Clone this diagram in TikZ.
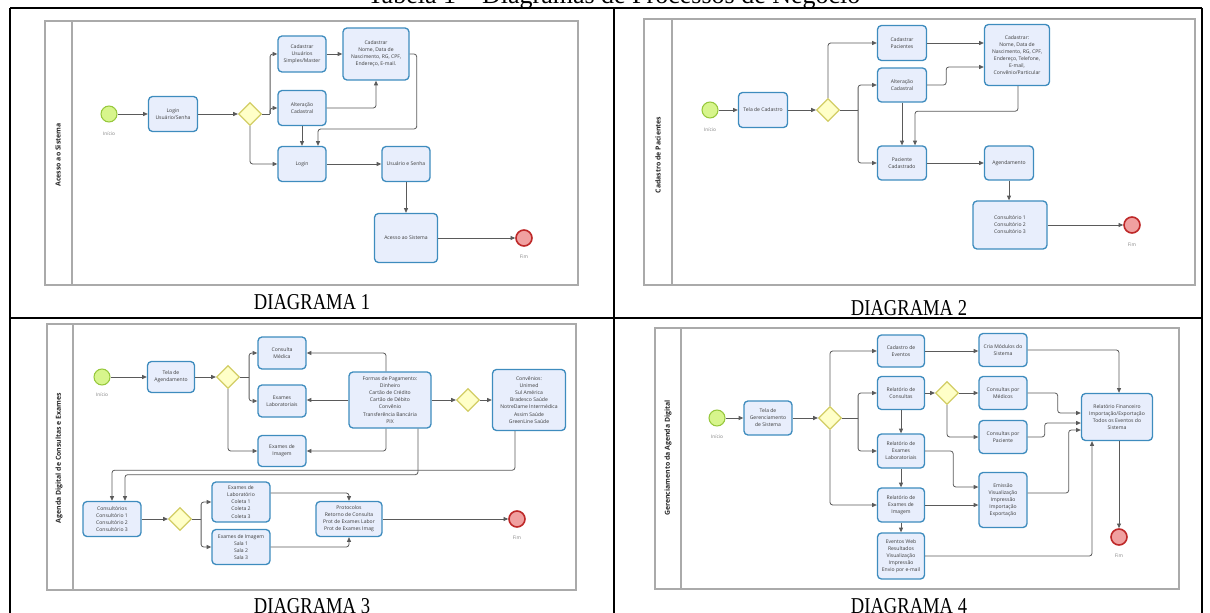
\documentclass[tikz,border=0pt]{standalone}
\usepackage{fontspec}
\setmainfont{Liberation Serif}
\newfontfamily\diagfont{Open Sans}
\usetikzlibrary{arrows.meta,shapes.geometric}

\definecolor{taskline}{RGB}{62,140,190}
\definecolor{taskfill}{RGB}{232,238,252}
\definecolor{startline}{RGB}{150,200,60}
\definecolor{startfill}{RGB}{215,245,140}
\definecolor{endline}{RGB}{190,40,40}
\definecolor{endfill}{RGB}{240,160,160}
\definecolor{gateline}{RGB}{210,205,100}
\definecolor{gatefill}{RGB}{255,255,200}
\definecolor{poolline}{RGB}{170,170,170}
\definecolor{flowline}{RGB}{90,90,90}
\definecolor{labelgrey}{RGB}{60,60,60}

\newcommand{\pxu}{0.75pt}

\tikzset{
  task/.style={draw=taskline, fill=taskfill, line width=1pt, rounded corners=3pt, align=center,
    font=\diagfont\fontsize{3.8}{5.3}\selectfont, text=labelgrey, inner sep=0pt},
  startev/.style={circle, draw=startline, fill=startfill, line width=0.8pt, minimum size=16*\pxu, inner sep=0pt},
  endev/.style={circle, draw=endline, fill=endfill, line width=1.2pt, minimum size=16*\pxu, inner sep=0pt},
  gateway/.style={diamond, draw=gateline, fill=gatefill, line width=0.9pt, minimum size=23*\pxu, inner sep=0pt},
  evlabel/.style={font=\diagfont\fontsize{3.6}{4.5}\selectfont, text=gray},
  flow/.style={draw=flowline, line width=0.6pt, rounded corners=2pt, -{Triangle[length=3.5pt,width=3pt]}},
  pool/.style={draw=poolline, line width=1pt},
  lanelabel/.style={rotate=90, font=\diagfont\bfseries\fontsize{5.2}{6}\selectfont, text=black!85},
  tableline/.style={draw=black, line width=1.2pt},
  caption/.style={font=\fontsize{17}{20}\selectfont, xscale=0.82},
  tabletitle/.style={font=\fontsize{19.5}{22}\selectfont, anchor=base},
}

\begin{document}
\begin{tikzpicture}[x=0.75pt, y=-0.75pt]
      \useasboundingbox (0,0) rectangle (1210,613);

      % Table
      \node[tabletitle] (title) at (614,4) {Tabela 1 – Diagramas de Processos de Negócio};
      \draw[tableline] (10,8) -- (1202,8);
      \draw[tableline] (10,318) -- (1202,318);
      \draw[tableline] (10,8) -- (10,613);
      \draw[tableline] (614,8) -- (614,613);
      \draw[tableline] (1202,8) -- (1202,613);
      \node[caption] (cap1) at (312,302) {DIAGRAMA 1};
      \node[caption] (cap2) at (909,308) {DIAGRAMA 2};
      \node[caption] (cap3) at (312,606) {DIAGRAMA 3};
      \node[caption] (cap4) at (909,606) {DIAGRAMA 4};

      % Diagrama 1
      \draw[pool] (45,21) rectangle (578,285);
      \draw[pool] (72,21) -- (72,285);
      \node[lanelabel] (d1lane) at (58,155) {Acesso ao Sistema};
      \node[startev] (d1ini) at (109,114) {};
      \node[evlabel] (d1inil) at (109,134) {Início};
      \node[task, minimum width=49*\pxu, minimum height=35*\pxu] (d1log) at (173,114) {Login\\Usuário/Senha};
      \node[gateway] (d1gw) at (250,114) {};
      \node[task, minimum width=48*\pxu, minimum height=36*\pxu] (d1cadu) at (302,54) {Cadastrar\\Usuários\\Simples/Master};
      \node[task, minimum width=48*\pxu, minimum height=35*\pxu] (d1alt) at (302,108) {Alteração\\Cadastral};
      \node[task, minimum width=48*\pxu, minimum height=35*\pxu] (d1login) at (302,164) {Login};
      \node[task, minimum width=66*\pxu, minimum height=52*\pxu] (d1cadn) at (376,54) {Cadastrar\\Nome, Data de\\Nascimento, RG, CPF,\\Endereço, E-mail.};
      \node[task, minimum width=48*\pxu, minimum height=35*\pxu] (d1usr) at (406,164) {Usuário e Senha};
      \node[task, minimum width=63*\pxu, minimum height=49*\pxu] (d1ace) at (406,238) {Acesso ao Sistema};
      \node[endev] (d1fim) at (524,238) {};
      \node[evlabel] (d1fiml) at (524,257) {Fim};

      \draw[flow] (d1ini) -- (d1log);
      \draw[flow] (d1log) -- (d1gw);
      \draw[flowline, line width=0.6pt] (d1gw.east) -- ++(8,0) coordinate (d1j);
      \draw[flow] (d1j) |- (d1cadu.west);
      \draw[flow] (d1j) |- (d1alt.west);
      \draw[flow] (d1gw.south) |- (d1login.west);
      \draw[flow] (d1cadu) -- (d1cadu -| d1cadn.west);
      \draw[flow] (d1alt.east) -| (d1cadn.south);
      \draw[flow] (d1alt) -- (d1login);
      \draw[flow] (d1cadn.east) -- ++(7,0) |- ++(0,75) -| ([xshift=12pt]d1login.north);
      \draw[flow] (d1login) -- (d1usr);
      \draw[flow] (d1usr) -- (d1ace);
      \draw[flow] (d1ace) -- (d1fim);

      % Diagrama 2
      \draw[pool] (644,19) rectangle (1195,285);
      \draw[pool] (672,19) -- (672,285);
      \node[lanelabel] (d2lane) at (658,155) {Cadastro de Pacientes};
      \node[startev] (d2ini) at (710,110) {};
      \node[evlabel] (d2inil) at (710,130) {Início};
      \node[task, minimum width=49*\pxu, minimum height=35*\pxu] (d2tela) at (763,110) {Tela de Cadastro};
      \node[gateway] (d2gw) at (828,110) {};
      \node[task, minimum width=49*\pxu, minimum height=35*\pxu] (d2cadp) at (902,43) {Cadastrar\\Pacientes};
      \node[task, minimum width=49*\pxu, minimum height=34*\pxu] (d2alt) at (902,85) {Alteração\\Cadastral};
      \node[task, minimum width=49*\pxu, minimum height=34*\pxu] (d2pac) at (902,163) {Paciente\\Cadastrado};
      \node[task, minimum width=65*\pxu, minimum height=61*\pxu] (d2cadn) at (1017,55) {Cadastrar:\\Nome, Data de\\Nascimento, RG, CPF,\\Endereço, Telefone,\\E-mail,\\Convênio/Particular};
      \node[task, minimum width=49*\pxu, minimum height=34*\pxu] (d2agd) at (1009,163) {Agendamento};
      \node[task, minimum width=74*\pxu, minimum height=48*\pxu] (d2cons) at (1010,225) {Consultório 1\\Consultório 2\\Consultório 3};
      \node[endev] (d2fim) at (1132,225) {};
      \node[evlabel] (d2fiml) at (1132,245) {Fim};

      \draw[flow] (d2ini) -- (d2tela);
      \draw[flow] (d2tela) -- (d2gw);
      \draw[flow] (d2gw.north) |- (d2cadp.west);
      \draw[flowline, line width=0.6pt] (d2gw.east) -- ++(18,0) coordinate (d2j);
      \draw[flow] (d2j) |- (d2alt.west);
      \draw[flow] (d2j) |- (d2pac.west);
      \draw[flow] (d2cadp.east) -- (d2cadp.east -| d2cadn.west);
      \draw[flow] (d2alt.east) -- ++(19,0) |- ([yshift=-9pt]d2cadn.west);
      \draw[flow] (d2alt) -- (d2pac);
      \draw[flow] ([xshift=0.75pt]d2cadn.south) -- ++(0,25) -| ([xshift=9.75pt]d2pac.north);
      \draw[flow] (d2pac) -- (d2agd);
      \draw[flow] (d2agd.south) -- (d2agd.south |- d2cons.north);
      \draw[flow] (d2cons) -- (d2fim);

      % Diagrama 3
      \draw[pool] (47,324) rectangle (576,590);
      \draw[pool] (73,324) -- (73,590);
      \node[lanelabel] (d3lane) at (59,458) {Agenda Digital de Consultas e Exames};
      \node[startev] (d3ini) at (102,377) {};
      \node[evlabel] (d3inil) at (102,395) {Início};
      \node[task, minimum width=47*\pxu, minimum height=31*\pxu] (d3tela) at (171,377) {Tela de\\Agendamento};
      \node[gateway] (d3gw1) at (228,377) {};
      \node[task, minimum width=48*\pxu, minimum height=32*\pxu] (d3cmed) at (282,353) {Consulta\\Médica};
      \node[task, minimum width=48*\pxu, minimum height=32*\pxu] (d3elab) at (282,401) {Exames\\Laboratoriais};
      \node[task, minimum width=48*\pxu, minimum height=31*\pxu] (d3eimg) at (282,451) {Exames de\\Imagem};
      \node[task, minimum width=82*\pxu, minimum height=56*\pxu] (d3pag) at (390,400) {Formas de Pagamento:\\Dinheiro\\Cartão de Crédito\\Cartão de Débito\\Convênio\\Transferência Bancária\\PIX};
      \node[gateway] (d3gw2) at (468,400) {};
      \node[task, minimum width=73*\pxu, minimum height=61*\pxu] (d3conv) at (529,400) {Convênios:\\Unimed\\Sul América\\Bradesco Saúde\\NotreDame Intermédica\\Assim Saúde\\GreenLine Saúde};
      \node[task, minimum width=58*\pxu, minimum height=35*\pxu] (d3ctr) at (112,519) {Consultórios\\Consultório 1\\Consultório 2\\Consultório 3};
      \node[gateway] (d3gw3) at (180,519) {};
      \node[task, minimum width=58*\pxu, minimum height=40*\pxu] (d3elb) at (241,502) {Exames de\\Laboratório\\Coleta 1\\Coleta 2\\Coleta 3};
      \node[task, minimum width=58*\pxu, minimum height=35*\pxu] (d3eim) at (241,547) {Exames de Imagem\\Sala 1\\Sala 2\\Sala 3};
      \node[task, minimum width=66*\pxu, minimum height=35*\pxu] (d3prot) at (349,519) {Protocolos\\Retorno de Consulta\\Prot de Exames Labor\\Prot de Exames Imag};
      \node[endev] (d3fim) at (517,519) {};
      \node[evlabel] (d3fiml) at (517,538) {Fim};

      \draw[flow] (d3ini) -- (d3tela);
      \draw[flow] (d3tela) -- (d3gw1);
      \draw[flowline, line width=0.6pt] (d3gw1.east) -- ++(9,0) coordinate (d3j1);
      \draw[flow] (d3j1) |- (d3cmed.west);
      \draw[flow] (d3j1) |- (d3elab.west);
      \draw[flow] (d3gw1.south) |- (d3eimg.west);
      \draw[flow] ([xshift=-3pt]d3pag.north) |- (d3cmed.east);
      \draw[flow] (d3pag.west) -- (d3pag.west -| d3elab.east);
      \draw[flow] ([xshift=-3pt]d3pag.south) |- (d3eimg.east);
      \draw[flow] (d3pag) -- (d3gw2);
      \draw[flow] (d3gw2) -- (d3conv);
      \draw[flow] ([xshift=-10.5pt]d3conv.south) -- ++(0,39) -| (d3ctr.north);
      \draw[flow] ([xshift=21pt]d3pag.south) -- ++(0,46) -| ([xshift=9.75pt]d3ctr.north);
      \draw[flow] (d3ctr) -- (d3gw3);
      \draw[flowline, line width=0.6pt] (d3gw3.east) -- ++(9,0) coordinate (d3j3);
      \draw[flow] (d3j3) |- (d3elb.west);
      \draw[flow] (d3j3) |- (d3eim.west);
      \draw[flow] ([yshift=6.75pt]d3elb.east) -| (d3prot.north);
      \draw[flow] (d3eim.east) -| (d3prot.south);
      \draw[flow] (d3prot) -- (d3fim);

      % Diagrama 4
      \draw[pool] (655,328) rectangle (1179,589);
      \draw[pool] (681,328) -- (681,589);
      \node[lanelabel] (d4lane) at (668,458) {Gerenciamento da Agenda Digital};
      \node[startev] (d4ini) at (717,418) {};
      \node[evlabel] (d4inil) at (717,437) {Início};
      \node[task, minimum width=48*\pxu, minimum height=34*\pxu] (d4tela) at (768,418) {Tela de\\Gerenciamento\\de Sistema};
      \node[gateway] (d4gw1) at (830,418) {};
      \node[task, minimum width=47*\pxu, minimum height=32*\pxu] (d4cev) at (901,351) {Cadastro de\\Eventos};
      \node[task, minimum width=47*\pxu, minimum height=33*\pxu] (d4rcon) at (901,393) {Relatório de\\Consultas};
      \node[task, minimum width=47*\pxu, minimum height=34*\pxu] (d4rlab) at (901,451) {Relatório de\\Exames\\Laboratoriais};
      \node[task, minimum width=47*\pxu, minimum height=34*\pxu] (d4rimg) at (901,505) {Relatório de\\Exames de\\Imagem};
      \node[task, minimum width=47*\pxu, minimum height=46*\pxu] (d4web) at (901,556) {Eventos Web\\Resultados\\Visualização\\Impressão\\Envio por e-mail};
      \node[task, minimum width=48*\pxu, minimum height=33*\pxu] (d4mod) at (1003,350) {Cria Módulos do\\Sistema};
      \node[gateway] (d4gw2) at (947,393) {};
      \node[task, minimum width=48*\pxu, minimum height=33*\pxu] (d4cmed) at (1003,393) {Consultas por\\Médicos};
      \node[task, minimum width=48*\pxu, minimum height=33*\pxu] (d4cpac) at (1003,437) {Consultas por\\Paciente};
      \node[task, minimum width=48*\pxu, minimum height=55*\pxu] (d4emi) at (1003,500) {Emissão\\Visualização\\Impressão\\Importação\\Exportação};
      \node[task, minimum width=71*\pxu, minimum height=47*\pxu] (d4rf) at (1117,417) {Relatório Financeiro\\Importação/Exportação\\Todos os Eventos do\\Sistema};
      \node[endev] (d4fim) at (1119,537) {};
      \node[evlabel] (d4fiml) at (1119,556) {Fim};

      \draw[flow] (d4ini) -- (d4tela);
      \draw[flow] (d4tela) -- (d4gw1);
      \draw[flow] (d4gw1.north) |- (d4cev.west);
      \draw[flowline, line width=0.6pt] (d4gw1.east) -- ++(16,0) coordinate (d4j1);
      \draw[flow] (d4j1) |- (d4rcon.west);
      \draw[flow] (d4j1) |- (d4rlab.west);
      \draw[flow] (d4gw1.south) |- (d4rimg.west);
      \draw[flow] (d4rcon) -- (d4rlab);
      \draw[flow] (d4rlab) -- (d4rimg);
      \draw[flow] (d4rimg) -- (d4web);
      \draw[flow] (d4cev) -- (d4cev -| d4mod.west);
      \draw[flow] (d4rcon) -- (d4gw2);
      \draw[flow] (d4gw2) -- (d4cmed);
      \draw[flow] (d4gw2.south) |- (d4cpac.west);
      \draw[flow] (d4rlab.east) -- ++(28,0) |- ([yshift=9.75pt]d4emi.west);
      \draw[flow] (d4rimg.east) -- (d4rimg.east -| d4emi.west);
      \draw[flow] (d4mod.east) -| ([xshift=1.5pt]d4rf.north);
      \draw[flow] (d4cmed.east) -- ++(30,0) |- ([yshift=3pt]d4rf.west);
      \draw[flow] (d4cpac.east) -- ++(17,0) |- ([yshift=-4.5pt]d4rf.west);
      \draw[flow] ([yshift=5.25pt]d4emi.east) -- ++(41,0) |- ([yshift=-9.75pt]d4rf.west);
      \draw[flow] (d4web.east) -| ([xshift=-18.75pt]d4rf.south);
      \draw[flow] (d4rf.south -| d4fim.north) -- (d4fim.north);
    \end{tikzpicture}
\end{document}
